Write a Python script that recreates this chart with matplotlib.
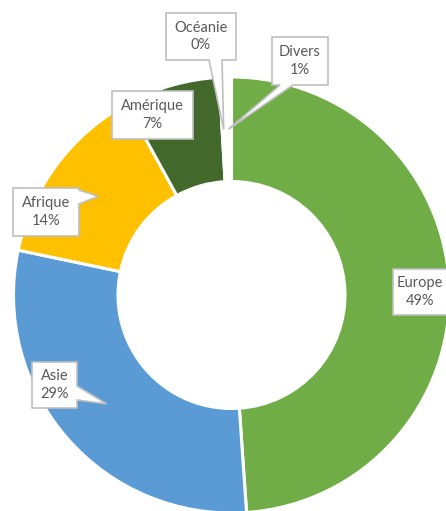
import matplotlib.pyplot as plt
from matplotlib.patches import Polygon
import numpy as np

# données
regions = ["Europe", "Asie", "Afrique", "Amérique", "Océanie", "Divers"]
parts = [48.9, 29.4, 13.7, 7.1, 0.3, 0.6]
couleurs = ["#70AD47", "#5B9BD5", "#FFC000", "#43682B", "#BF9000", "#FFFFFF"]

W, H = 446, 511
cx, cy = 231.5, 295          # centre du donut (pixels, y vers le bas)
r_out, r_in = 218, 113.5

fig = plt.figure(figsize=(W / 100, H / 100), dpi=100)
ax = fig.add_axes([0, 0, 1, 1])

wedges, _ = ax.pie(parts, colors=couleurs, startangle=90, counterclock=False,
                   radius=r_out, center=(cx, H - cy),
                   wedgeprops=dict(width=r_out - r_in, edgecolor="white", linewidth=2.2))
ax.set_xlim(0, W)
ax.set_ylim(0, H)
ax.set_aspect("equal")
ax.axis("off")

r_mid = (r_out + r_in) / 2


def pointe(w):
    a = np.radians((w.theta1 + w.theta2) / 2)
    return (cx + r_mid * np.cos(a), cy - r_mid * np.sin(a))


def etiquette(box, texte, cote=None, base=None, tip=None, tx=None):
    l, t, r, b = box
    pts = [(l, t), (r, t)]
    if cote == "right":
        pts += [(r, base[0]), tip, (r, base[1])]
    pts += [(r, b)]
    if cote == "bottom":
        pts += [(base[1], b), tip, (base[0], b)]
    pts += [(l, b)]
    pts = [(x, H - y) for x, y in pts]
    ax.add_patch(Polygon(pts, closed=True, facecolor="white", edgecolor="#BFBFBF",
                         linewidth=1.2, joinstyle="miter", zorder=5))
    if tx is None:
        tx = (l + r) / 2
    ax.text(tx, H - (t + b) / 2, texte, ha="center", va="center",
            fontsize=10.5, family="Lato", color="#595959", linespacing=1.35, zorder=6)


# boîtes des étiquettes (gauche, haut, droite, bas) en pixels
boites = {
    "Europe": ((393, 269, 456, 315), None, None),
    "Asie": ((32, 362, 77, 408), "right", (386, 400)),
    "Afrique": ((13, 188, 79, 236), "right", (190, 204)),
    "Amérique": ((112, 91, 193, 139), None, None),
    "Océanie": ((166, 13, 236, 60), "bottom", (209, 222)),
    "Divers": ((272, 37, 328, 85), "bottom", (280, 293)),
}

for w, nom, p in zip(wedges, regions, parts):
    box, cote, base = boites[nom]
    tx = 420 if nom == "Europe" else None   # garder le texte dans l'image
    etiquette(box, f"{nom}\n{p:.0f}%", cote, base, pointe(w), tx)

fig.savefig("out.png", dpi=100)
